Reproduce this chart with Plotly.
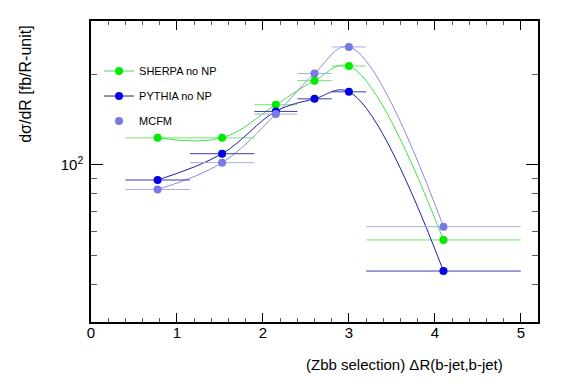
import plotly.graph_objects as go

# Bin edges / centres (Delta R)
bin_lo = [0.4, 1.15, 1.9, 2.4, 2.8, 3.2]
bin_hi = [1.15, 1.9, 2.4, 2.8, 3.2, 5.0]
x_centres = [(a + b) / 2 for a, b in zip(bin_lo, bin_hi)]
x_half = [(b - a) / 2 for a, b in zip(bin_lo, bin_hi)]

sherpa = [122.7, 122.7, 158.1, 190.1, 212.5, 56.2]
pythia = [88.9, 108.7, 150.2, 165.4, 174.5, 44.3]
mcfm = [82.7, 101.5, 147.2, 200.9, 246.0, 62.2]

y_tickvals = [100]
y_ticktext = ["10<sup>2</sup>"]
y_minor = [30, 40, 50, 60, 70, 80, 90, 200, 300]

FONT = "Liberation Sans, Arial, Helvetica, sans-serif"

fig = go.Figure()

# MCFM curve (no legend)
fig.add_trace(go.Scatter(
    x=x_centres, y=mcfm, mode="lines",
    line=dict(color="rgb(140,140,225)", width=1, shape="spline", smoothing=1.1),
    showlegend=False, hoverinfo="skip"))

fig.add_trace(go.Scatter(
    x=x_centres, y=sherpa, mode="lines+markers", name="SHERPA no NP",
    legendgroup="a",
    line=dict(color="rgb(70,225,70)", width=1, shape="spline", smoothing=1.1),
    marker=dict(color="rgb(0,235,0)", size=8),
    error_x=dict(type="data", array=x_half, width=0, thickness=1,
                 color="rgb(110,230,110)")))

fig.add_trace(go.Scatter(
    x=x_centres, y=pythia, mode="lines+markers", name="PYTHIA no NP",
    legendgroup="b",
    line=dict(color="rgb(30,30,170)", width=1, shape="spline", smoothing=1.1),
    marker=dict(color="rgb(0,0,230)", size=8),
    error_x=dict(type="data", array=x_half, width=0, thickness=1,
                 color="rgb(60,60,165)")))

fig.add_trace(go.Scatter(
    x=x_centres, y=mcfm, mode="markers", name="MCFM",
    legendgroup="c",
    marker=dict(color="rgb(120,120,230)", size=8),
    error_x=dict(type="data", array=x_half, width=0, thickness=1,
                 color="rgb(170,170,230)")))

axis_common = dict(
    showline=True, linecolor="black", linewidth=1.5, mirror="ticks",
    ticks="inside", tickcolor="black", showgrid=False, zeroline=False,
    tickfont=dict(family=FONT, size=15, color="black"),
)

fig.update_xaxes(
    range=[0, 5.2], tickmode="array", tickvals=[0, 1, 2, 3, 4, 5],
    ticklen=9, tickwidth=1, ticklabelstandoff=-4,
    minor=dict(tickmode="array",
               tickvals=[v / 5 for v in range(0, 27) if v % 5 != 0],
               ticklen=4, tickcolor="rgb(90,90,90)", ticks="inside"),
    **axis_common)

fig.update_yaxes(
    type="log", range=[1.4771, 2.4771], tickmode="array",
    tickvals=y_tickvals, ticktext=y_ticktext,
    ticklen=12, tickwidth=1, ticklabelstandoff=3,
    minor=dict(tickmode="array", tickvals=y_minor, ticklen=6,
               tickcolor="rgb(90,90,90)", ticks="inside"),
    **axis_common)

# page body has an 8px margin, so the margins are offset to land the frame
# at the reference position
fig.update_layout(
    width=567, height=384,
    margin=dict(l=83, r=37, t=11, b=70),
    paper_bgcolor="white", plot_bgcolor="white",
    font=dict(family=FONT, color="black"),
    legend=dict(x=0.018, y=0.882, xanchor="left", yanchor="top",
                bgcolor="rgba(0,0,0,0)", borderwidth=0,
                font=dict(family=FONT, size=11, color="black"),
                tracegroupgap=6, traceorder="grouped"),
    annotations=[
        dict(text="(Zbb selection) \u0394R(b-jet,b-jet)", xref="paper", yref="paper",
             x=(505 - 91) / 447.3, y=-(365 - 322.3) / 303.6,
             xanchor="right", yanchor="middle", showarrow=False,
             font=dict(family=FONT, size=15, color="black")),
        dict(text="d\u03c3/dR [fb/R-unit]", xref="paper", yref="paper",
             x=(26 - 91) / 447.3, y=(322.3 - 83) / 303.6, textangle=-90,
             xanchor="center", yanchor="middle", showarrow=False,
             font=dict(family=FONT, size=16, color="black")),
    ],
)

fig.write_html("out.html")
